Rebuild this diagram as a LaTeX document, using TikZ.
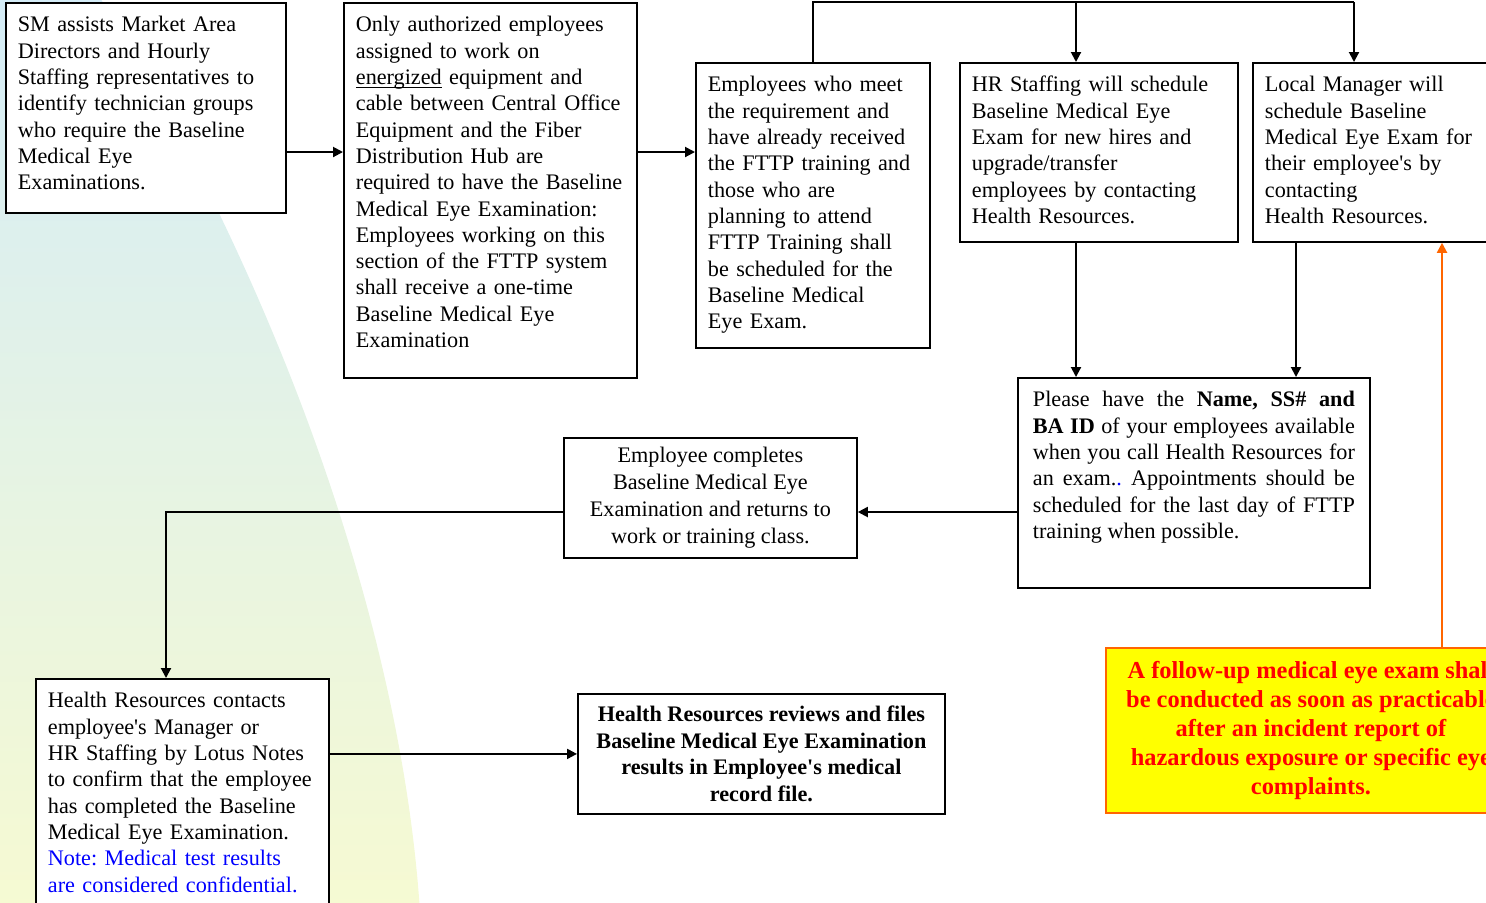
\documentclass[tikz,border=0pt]{standalone}
\usepackage{fontspec}
\setmainfont{Liberation Serif}
\usetikzlibrary{arrows.meta}
\frenchspacing

\definecolor{bgtop}{RGB}{212,236,247}
\definecolor{bgmid}{RGB}{224,242,232}
\definecolor{bgbot}{RGB}{246,250,210}
\definecolor{fuyellow}{RGB}{255,255,0}
\definecolor{fuorange}{RGB}{255,102,0}
\definecolor{fured}{RGB}{255,0,0}
\definecolor{noteblue}{RGB}{0,0,255}

\begin{document}
\begin{tikzpicture}[x=0.5pt,y=-0.5pt,
    box/.style={draw, line width=0.9pt, fill=white, anchor=north west, inner xsep=6pt, inner ysep=0pt,
      align=left, text height=14.5pt, font=\fontsize{11.1pt}{13.15pt}\selectfont},
    cbox/.style={draw, line width=0.9pt, fill=white, anchor=north west, inner sep=0pt,
      align=center, font=\fontsize{11.1pt}{13.5pt}\selectfont},
    conn/.style={line width=1pt, -{Triangle[length=5pt,width=5pt]}}]
                \path[use as bounding box] (0,0) rectangle (1486,902);
                \clip (0,0) rectangle (1486,902);
                % background
                \shade[top color=bgtop, middle color=bgmid, bottom color=bgbot] (-10,-10) -- (95,-10) .. controls (255,240) and (400,600) .. (420,912) -- (-10,912) -- cycle;
                % top row
                \node[box, text width=128pt, text depth=90.5pt] (sm) at (5,2) {SM assists Market Area\\ Directors and Hourly\\ Staffing representatives to\\ identify technician groups\\ who require the Baseline\\ Medical Eye\\ Examinations.};
                \node[box, text width=134.5pt, text depth=173pt] (auth) at (343,2) {Only authorized employees\\ assigned to work on\\ \underline{\smash{energized}} equipment and\\ cable between Central Office\\ Equipment and the Fiber\\ Distribution Hub are\\ required to have the Baseline\\ Medical Eye Examination:\\ Employees working on this\\ section of the FTTP system\\ shall receive a one-time\\ Baseline Medical Eye\\ Examination};
                \node[box, text width=105pt, text depth=128pt] (meet) at (695,62) {Employees who meet\\ the requirement and\\ have already received\\ the FTTP training and\\ those who are\\ planning to attend\\ FTTP Training shall\\ be scheduled for the\\ Baseline Medical\\ Eye Exam.};
                \node[box, text width=127pt, text depth=75pt] (hrs) at (959,62) {HR Staffing will schedule\\ Baseline Medical Eye\\ Exam for new hires and\\ upgrade/transfer\\ employees by contacting\\ Health Resources.};
                \node[box, text width=106pt, text depth=75pt] (lm) at (1252,62) {Local Manager will\\ schedule Baseline\\ Medical Eye Exam for\\ their employee\textquotesingle s by\\ contacting\\ Health Resources.};
                % middle
                \node[box, align=justify, inner xsep=7.5pt, text width=161pt, text depth=90.5pt] (info) at (1017,377) {Please have the \textbf{Name, SS\# and}\linebreak \textbf{BA ID} of your employees available\linebreak when you call Health Resources for\linebreak an exam.\textcolor{noteblue}{.} Appointments should be\linebreak scheduled for the last day of FTTP\linebreak training when possible.};
                \node[cbox, minimum width=146.5pt, minimum height=60pt] (done) at (563,437) {Employee completes\\ Baseline Medical Eye\\ Examination and returns to\\ work or training class.};
                % bottom row
                \node[box, text width=134.5pt, text depth=103pt] (hrc) at (35,678) {Health Resources contacts\\ employee\textquotesingle s Manager or\\ HR Staffing by Lotus Notes\\ to confirm that the employee\\ has completed the Baseline\\ Medical Eye Examination.\\ \textcolor{noteblue}{Note: Medical test results}\\ \textcolor{noteblue}{are considered confidential.}};
                \node[cbox, minimum width=183.5pt, minimum height=60pt, font=\bfseries\fontsize{11.1pt}{13.4pt}\selectfont] (file) at (577,693) {Health Resources reviews and files\\ Baseline Medical Eye Examination\\ results in Employee\textquotesingle s medical\\ record file.};
                \node[cbox, draw=fuorange, fill=fuyellow, text=fured, minimum width=205pt, minimum height=82.5pt, font=\bfseries\fontsize{12.2pt}{14.4pt}\selectfont] (fu) at (1105,647) {A follow-up medical eye exam shall\\ be conducted as soon as practicable\\ after an incident report of\\ hazardous exposure or specific eye\\ complaints.};
                % connectors
                \coordinate (row) at (0,152);
                \coordinate (hx) at (1076,2);
                \coordinate (lx) at (1354,2);
                \coordinate (mx) at (1296,0);
                \coordinate (ox) at (1442,0);
                \coordinate (ret) at (166,512);
                \draw[conn] (sm.east |- row) -- (auth.west |- row);
                \draw[conn] (auth.east |- row) -- (meet.west |- row);
                \draw[line width=1pt] (meet.north) |- (lx);
                \draw[conn] (hx) -- (hrs.north -| hx);
                \draw[conn] (lx) -- (lm.north -| lx);
                \draw[conn] (hrs.south -| hx) -- (info.north -| hx);
                \draw[conn] (lm.south -| mx) -- (info.north -| mx);
                \draw[conn] (info.west |- ret) -- (done.east |- ret);
                \draw[conn] (done.west |- ret) -| (hrc.north -| ret);
                \draw[conn] (hrc.east |- file.west) -- (file.west);
                \draw[conn, fuorange] (fu.north -| ox) -- (lm.south -| ox);
            \end{tikzpicture}
\end{document}
